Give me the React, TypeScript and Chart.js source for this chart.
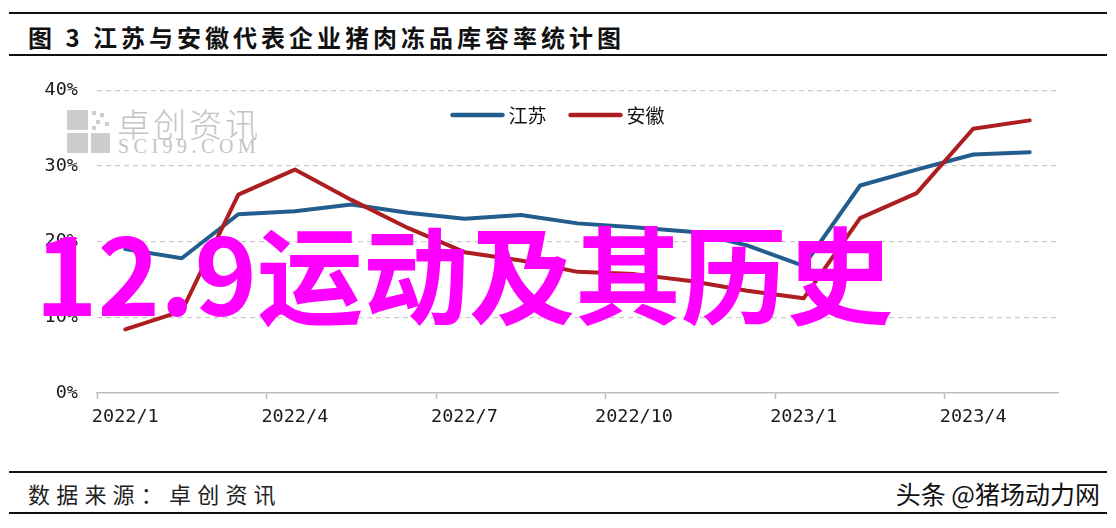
import React, { useEffect, useRef } from 'react';
import { Chart, registerables } from 'chart.js';

Chart.register(...registerables);

const months = [
  '2022/1', '2022/2', '2022/3', '2022/4', '2022/5', '2022/6', '2022/7', '2022/8', '2022/9',
  '2022/10', '2022/11', '2022/12', '2023/1', '2023/2', '2023/3', '2023/4', '2023/5',
];
const jiangsu = [19.0, 17.8, 23.6, 24.0, 24.9, 23.8, 23.0, 23.5, 22.4, 21.9, 21.3, 19.5, 16.8, 27.4, 29.5, 31.5, 31.8];
const anhui = [8.4, 10.8, 26.2, 29.5, 25.5, 21.8, 18.6, 17.5, 16.0, 15.7, 14.8, 13.5, 12.5, 23.1, 26.4, 34.9, 36.0];
const seriesNames = ['江苏', '安徽'];
const seriesColors = ['#235d8e', '#ad1e20'];
const yMax = 40;
const yStep = 10;
const labelEvery = 3;

const tickFont = { family: '"DejaVu Sans Mono", "Liberation Mono", monospace', size: 18.5 };

const inlineLegend = {
  id: 'inlineLegend',
  afterDraw(chart: any) {
    const ctx = chart.ctx as CanvasRenderingContext2D;
    const area = chart.chartArea;
    const y = area.top + 25;
    const lineW = 54;
    const gap = 4;
    const itemGap = 22;
    ctx.save();
    ctx.font = '19px "Noto Sans CJK SC", sans-serif';
    const items = chart.data.datasets.map((ds: any) => ({
      text: ds.label as string,
      color: ds.borderColor as string,
      w: lineW + gap + ctx.measureText(ds.label).width,
    }));
    const total = items.reduce((a: number, b: any) => a + b.w, 0) + itemGap * (items.length - 1);
    let x = (area.left + area.right) / 2 - 20 - total / 2;
    for (const it of items) {
      ctx.strokeStyle = it.color;
      ctx.lineWidth = 4.5;
      ctx.lineCap = 'round';
      ctx.beginPath();
      ctx.moveTo(x + 2, y);
      ctx.lineTo(x + lineW - 2, y);
      ctx.stroke();
      ctx.fillStyle = '#111';
      ctx.textBaseline = 'middle';
      ctx.textAlign = 'left';
      ctx.fillText(it.text, x + lineW + gap, y + 1);
      x += it.w + itemGap;
    }
    ctx.restore();
  },
};

export default function App() {
  const ref = useRef<HTMLCanvasElement>(null);

  useEffect(() => {
    const chart = new Chart(ref.current as HTMLCanvasElement, {
      type: 'line',
      data: {
        labels: months,
        datasets: [
          {
            label: seriesNames[0],
            data: jiangsu,
            borderColor: seriesColors[0],
            backgroundColor: seriesColors[0],
            borderWidth: 4,
            pointRadius: 0,
            tension: 0,
            borderJoinStyle: 'round',
            borderCapStyle: 'round',
            order: 1,
          },
          {
            label: seriesNames[1],
            data: anhui,
            borderColor: seriesColors[1],
            backgroundColor: seriesColors[1],
            borderWidth: 4,
            pointRadius: 0,
            tension: 0,
            borderJoinStyle: 'round',
            borderCapStyle: 'round',
            order: 0,
          },
        ],
      },
      options: {
        responsive: false,
        animation: false,
        layout: { padding: { left: 0, right: 58, top: 28, bottom: 0 } },
        plugins: {
          tooltip: { enabled: false },
          legend: { display: false },
        },
        scales: {
          x: {
            type: 'category',
            offset: true,
            grid: {
              offset: true,
              drawOnChartArea: false,
              tickLength: 6,
              tickWidth: 1.5,
              tickColor: (ctx: any) =>
                ctx.index !== undefined && ctx.index % labelEvery === 0 ? '#bdbdbd' : 'transparent',
            },
            border: { display: true, color: '#bdbdbd', width: 1.5 },
            ticks: {
              autoSkip: false,
              maxRotation: 0,
              padding: 7,
              color: '#1a1a1a',
              font: tickFont,
              callback: (_v: any, i: number) => (i % labelEvery === 0 ? months[i] : ''),
            },
            afterFit: (s: any) => {
              s.height = 67;
            },
          },
          y: {
            min: 0,
            max: yMax,
            ticks: {
              stepSize: yStep,
              padding: 19,
              color: '#1a1a1a',
              font: tickFont,
              callback: (v: any) => v + '%',
            },
            grid: {
              drawTicks: false,
              lineWidth: 1.2,
              color: (ctx: any) => (ctx.tick && ctx.tick.value === 0 ? 'transparent' : '#cccccc'),
            },
            border: { display: false, dash: [5, 4] },
            afterFit: (s: any) => {
              s.width = 97;
            },
          },
        },
      },
      plugins: [inlineLegend],
    } as any);
    return () => chart.destroy();
  }, []);

  const rule = (top: number): React.CSSProperties => ({
    position: 'absolute',
    left: 9,
    width: 1098,
    top,
    height: 2,
    background: '#111',
  });

  const sq = (left: number, top: number, w: number, h: number): React.CSSProperties => ({
    position: 'absolute',
    left,
    top,
    width: w,
    height: h,
    background: '#cdcdcd',
  });

  return (
    <div
      style={{
        position: 'fixed',
        left: 0,
        top: 0,
        width: 1116,
        height: 528,
        background: '#fff',
        overflow: 'hidden',
        fontFamily: '"Noto Sans CJK SC", sans-serif',
      }}
    >
      <div style={rule(12)} />
      <div
        style={{
          position: 'absolute',
          left: 28,
          top: 23,
          fontSize: 24,
          lineHeight: '28px',
          fontWeight: 700,
          letterSpacing: 4,
          color: '#111',
          whiteSpace: 'nowrap',
        }}
      >
        图 3 江苏与安徽代表企业猪肉冻品库容率统计图
      </div>
      <div style={rule(54)} />

      {/* watermark */}
      <div style={sq(67, 110, 21, 20)} />
      <div style={sq(67, 133, 21, 20)} />
      <div style={sq(91, 133, 19, 20)} />
      <div style={sq(92, 111, 4, 4)} />
      <div style={sq(100, 113, 4, 4)} />
      <div style={sq(96, 120, 4, 4)} />
      <div style={sq(105, 122, 4, 4)} />
      <div style={sq(92, 126, 4, 4)} />
      <div
        style={{
          position: 'absolute',
          left: 117,
          top: 104,
          fontSize: 33,
          lineHeight: '38px',
          fontWeight: 300,
          color: '#c4c4c4',
          letterSpacing: 3,
          whiteSpace: 'nowrap',
        }}
      >
        卓创资讯
      </div>
      <div
        style={{
          position: 'absolute',
          left: 118,
          top: 136,
          fontSize: 20,
          lineHeight: '20px',
          fontFamily: '"Liberation Serif", "DejaVu Serif", serif',
          color: '#c4c4c4',
          letterSpacing: 4.5,
          whiteSpace: 'nowrap',
        }}
      >
        SCI99.COM
      </div>

      <canvas
        ref={ref}
        width={1116}
        height={400}
        style={{ position: 'absolute', left: 0, top: 60, width: 1116, height: 400 }}
      />

      <div style={rule(471)} />
      <div
        style={{
          position: 'absolute',
          left: 28,
          top: 479,
          fontSize: 22,
          lineHeight: '28px',
          color: '#222',
          letterSpacing: 6.2,
          whiteSpace: 'nowrap',
        }}
      >
        数据来源：卓创资讯
      </div>
      <div
        style={{
          position: 'absolute',
          right: 16,
          top: 477,
          fontSize: 25,
          lineHeight: '32px',
          color: '#111',
          whiteSpace: 'nowrap',
        }}
      >
        头条 @猪场动力网
      </div>
      <div style={rule(512)} />

      <div
        style={{
          position: 'absolute',
          left: 35,
          top: 216,
          fontSize: 106,
          lineHeight: '108px',
          fontWeight: 700,
          color: '#ff00ff',
          whiteSpace: 'nowrap',
          pointerEvents: 'none',
        }}
      >
        12.9运动及其历史
      </div>
    </div>
  );
}
